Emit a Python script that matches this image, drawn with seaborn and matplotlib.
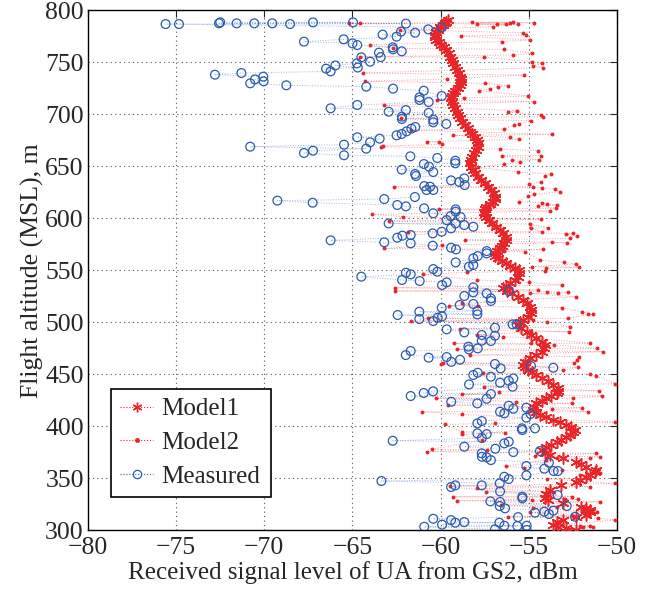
import numpy as np
import pandas as pd
import matplotlib
matplotlib.use("Agg")
import matplotlib.pyplot as plt
from matplotlib.lines import Line2D
import seaborn as sns

# ---------------- data ----------------
measured_x = [
    -75.6, -74.84, -72.57, -72.5, -71.57, -70.57, -69.55, -68.54, -67.24, -64.97,
    -67.75, -65.5, -65.0, -64.73, -63.29, -63.5, -64.5, -64.0, -63.4, -64.75, -64.7, -65.97, -66.5, -66.24,
    -72.8, -71.3, -70.53, -70.06, -70.04, -70.8, -68.75, -64.22,
    -66.24, -64.73,
    -64.73, -64.0, -63.46, -64.22, -65.48, -65.48, -67.24, -67.75, -70.8,
    -69.26, -67.26, -66.24, -64.5,
    -61.97, -62.25, -62.5, -61.45, -60.7, -59.94, -62.72, -62.7, -62.21,
    -62.7, -60.96, -61.2, -61.2, -60.68, -59.94, -62.95, -61.97, -62.2, -62.2, -60.68, -60.42, -60.42, -59.68,
    -62.5, -62.21, -61.93, -61.66, -61.44, -61.72, -60.19, -59.17, -59.17, -62.21, -60.95, -60.66, -60.42,
    -61.45, -61.4, -59.41, -58.94, -58.66,
    -60.93, -60.8, -60.42, -60.6, -58.64,
    -63.2, -61.46, -62.46, -61.97, -60.94, -59.15, -59.15, -60.42, -59.43, -58.87, -59.66, -59.41, -59.15,
    -58.66, -58.15, -62.95, -62.46, -62.17, -61.7, -61.7, -63.2, -60.45, -59.94, -60.45, -59.41, -59.13,
    -59.15, -57.9, -58.15, -58.15, -58.4, -57.39, -57.39, -60.42, -60.19, -61.97, -61.7, -62.19, -61.19,
    -59.92, -59.66, -58.15, -58.15, -58.66, -57.39, -57.15, -57.15, -56.14, -58.92, -58.15, -57.92, -57.92,
    -59.94, -61.21, -61.21, -62.44, -60.42, -60.17, -59.92, -59.66, -58.66, -56.92, -57.67, -57.67, -56.92,
    -57.15, -55.92, -55.69, -58.43, -58.4, -57.9, -61.98, -61.7, -60.68, -59.66, -58.9,
    -59.4, -56.92, -56.6, -54.88, -53.61, -58.15, -57.9, -57.15, -58.39, -56.63, -56.14, -55.88, -55.92,
    -61.7, -60.96, -60.43, -59.4, -57.92, -57.39, -57.15, -56.63, -56.39, -56.14, -55.88, -55.14, -55.14, -54.9,
    -57.92, -57.67, -55.39, -55.37, -54.65, -57.92, -57.66, -57.39, -62.72, -58.66, -56.9, -56.39, -56.14,
    -55.88, -57.67, -57.66, -57.39, -57.15, -54.37, -55.14, -54.12, -53.86, -53.59, -53.35, -55.14, -63.36,
    -56.39, -56.14, -56.65, -56.63, -59.41, -59.17, -57.67, -55.37, -55.37, -53.37, -57.18, -56.63, -56.65,
    -56.35, -55.61, -54.65, -54.12, -53.86, -53.61, -52.85, -52.38, -60.93, -60.42, -59.92, -59.41, -59.17,
    -58.66, -56.92, -56.67, -56.39, -55.65, -55.12, -55.12,
]
measured_y = [
    786.8, 786.8, 787.5, 788.5, 787.5, 787.5, 787.5, 786.8, 788.4, 788.4,
    769.9, 772.1, 768.2, 766.6, 776.6, 759.3, 754.8, 750.6, 755.0, 749.0, 745.0, 747.0, 743.9, 741.3,
    738.1, 739.7, 733.6, 736.2, 731.7, 729.8, 727.9, 726.6,
    705.8, 709.0,
    677.9, 673.1, 676.6, 667.0, 670.8, 660.6, 665.0, 662.8, 668.9,
    617.0, 615.0, 578.8, 543.9,
    787.2, 779.5, 774.7, 778.5, 781.7, 783.6, 764.4, 762.5, 760.6,
    724.7, 722.7, 716.3, 713.8, 711.8, 717.6, 702.5, 704.1, 697.7, 695.5, 701.4, 694.9, 692.3, 690.7,
    679.8, 681.1, 683.6, 686.2, 687.8, 659.6, 658.0, 655.4, 652.9, 646.8, 652.2, 649.7, 644.5,
    642.6, 640.7, 636.5, 634.9, 638.4,
    631.0, 627.2, 627.2, 630.4, 632.0,
    618.5, 620.5, 612.8, 611.5, 609.6, 608.6, 606.4, 604.8, 602.2, 601.2, 598.3, 590.3, 595.1,
    593.5, 591.9, 595.1, 581.4, 583.3, 583.9, 575.9, 576.9, 585.5, 587.1, 573.7, 571.7, 570.1,
    557.6, 563.7, 561.5, 555.1, 553.5, 568.5, 566.3, 551.2, 548.7, 547.7, 546.1, 540.7, 539.7,
    535.8, 538.4, 533.6, 528.8, 525.3, 527.8, 523.0, 520.5, 530.1, 516.6, 517.6, 510.8, 507.6,
    514.0, 510.2, 503.2, 507.0, 501.2, 504.4, 505.7, 493.2, 490.3, 494.8, 487.8, 482.3, 487.1,
    482.0, 498.0, 498.0, 476.6, 474.0, 474.9, 468.5, 472.4, 466.0, 466.6, 464.0,
    462.0, 459.9, 455.7, 458.0, 456.3, 449.3, 451.5, 447.7, 440.3, 441.9, 443.8, 446.0, 438.1,
    429.1, 432.0, 433.6, 423.6, 422.0, 426.5, 431.0, 414.0, 412.4, 419.8, 416.9, 417.9, 408.3, 411.8,
    402.8, 405.0, 398.0, 396.4, 398.0, 393.2, 388.7, 392.5, 386.1, 380.4, 378.4, 383.6, 385.2,
    375.2, 374.0, 370.7, 370.1, 367.5, 376.2, 361.8, 359.2, 365.0, 357.0, 357.0, 352.8, 347.4,
    351.5, 349.3, 345.1, 337.4, 341.6, 343.2, 343.2, 332.3, 330.7, 333.9, 327.8, 327.2, 323.3,
    321.1, 312.7, 316.9, 317.9, 315.6, 318.8, 323.3, 313.0, 303.4, 311.1, 305.4, 309.8, 307.3,
    307.9, 300.9, 307.3, 304.4, 304.1, 304.4, 300.3,
]

model1_x = [
    -59.58, -59.68, -59.77, -59.87, -60.02, -60.15, -60.25, -60.34, -60.32, -60.25, -60.11, -59.96,
    -59.83, -59.68, -59.55, -59.45, -59.38, -59.30, -59.19, -59.08, -58.98, -58.92, -58.85, -58.83,
    -58.91, -59.02, -59.19, -59.30, -59.38, -59.40, -59.36, -59.30, -59.19, -59.08, -59.00, -58.92,
    -58.79, -58.64, -58.47, -58.32, -58.21, -58.08, -57.96, -57.89, -57.91, -57.98, -58.09, -58.21,
    -58.30, -58.36, -58.28, -58.17, -58.04, -57.89, -57.70, -57.51, -57.32, -57.13, -57.00, -56.89,
    -56.92, -57.04, -57.23, -57.42, -57.51, -57.57, -57.51, -57.42, -57.26, -57.08, -56.87, -56.66,
    -56.47, -56.32, -56.32, -56.38, -56.51, -56.66, -56.81, -56.94, -56.89, -56.75, -56.53, -56.28,
    -56.06, -55.81,
    -55.55, -55.55, -55.60, -55.81, -56.08, -56.30, -56.45, -56.26, -55.98, -55.64, -55.32, -55.09,
    -54.94, -54.85, -54.85, -55.04, -55.32, -55.51, -55.60, -55.42, -55.13, -54.85, -54.57, -54.28,
    -54.09, -54.13, -54.28, -54.60, -54.94, -55.19, -55.32, -55.23, -55.04, -54.81, -54.57, -54.23,
    -53.91, -53.62, -53.34, -53.34, -53.43, -53.72, -54.00, -54.28, -54.57, -54.72, -54.75, -54.60,
    -54.38, -54.00, -53.62, -53.25, -52.87, -52.58, -52.40, -52.49, -52.68, -52.91, -53.15, -53.43,
    -53.72, -54.00, -54.28, -54.09, -53.81, -53.06, -52.30, -52.02, -51.74, -51.17, -51.26, -51.55,
    -51.74, -52.11, -52.30, -53.15, -53.81, -54.00, -54.09, -53.91, -53.06, -52.02, -51.74, -51.55,
    -51.55, -51.74, -52.30, -53.06, -53.43, -53.62, -53.34, -52.87, -52.30,
]
model1_y = [
    790.7, 789.1, 787.5, 785.9, 783.7, 781.1, 778.8, 776.3, 774.0, 771.5, 769.2, 766.7,
    764.4, 761.9, 758.7, 755.4, 752.2, 749.0, 745.8, 742.6, 739.4, 736.2, 734.0, 731.4,
    728.2, 725.0, 722.4, 720.2, 718.0, 715.4, 712.2, 709.0, 705.8, 702.6, 699.4, 696.2,
    692.9, 689.7, 686.5, 683.3, 681.1, 678.5, 675.3, 672.1, 668.9, 665.7, 662.5, 659.3,
    656.1, 652.9, 649.7, 646.5, 643.3, 640.1, 636.9, 633.7, 630.4, 627.2, 624.0, 620.8,
    618.6, 616.0, 613.8, 611.2, 609.0, 606.4, 604.2, 601.6, 598.4, 595.2, 592.0, 588.8,
    585.6, 582.4, 579.2, 576.0, 573.7, 571.2, 569.0, 566.3, 564.1, 561.5, 559.3, 556.7,
    554.5, 551.9,
    550.3, 547.1, 543.9, 540.7, 537.5, 534.9, 532.7, 530.4, 527.9, 524.7, 521.5, 518.3,
    515.1, 511.9, 508.7, 505.4, 502.2, 500.0, 497.4, 494.2, 491.0, 487.8, 484.6, 481.4,
    478.2, 475.0, 471.8, 468.6, 465.4, 462.2, 459.0, 456.7, 454.2, 452.0, 449.4, 446.2,
    443.1, 439.7, 436.5, 434.3, 431.7, 429.5, 426.9, 424.7, 422.1, 418.9, 415.7, 413.5,
    410.9, 408.7, 406.1, 403.9, 401.3, 399.1, 396.5, 394.3, 391.7, 389.5, 386.9, 384.7,
    382.1, 379.9, 377.2, 374.7, 372.4, 369.2, 366.0, 363.4, 361.2, 358.0, 355.8, 353.2,
    351.0, 348.4, 346.2, 343.6, 338.8, 335.0, 330.8, 329.2, 326.0, 322.8, 321.2, 319.6,
    317.4, 314.8, 312.6, 310.0, 307.8, 305.1, 303.5, 301.9, 300.6,
]

model2_x = [
    -65.2, -64.55, -64.0, -64.6, -64.4, -64.3, -63.2, -63.4, -63.9, -63.2,
    -58.24, -57.96, -57.05, -56.79, -56.30, -56.07, -55.88, -55.63, -54.73, -58.87, -55.35, -55.18,
    -56.54, -54.95, -56.41, -55.90, -54.80, -57.52, -54.84, -54.74, -54.27, -54.20, -55.29, -59.64,
    -57.46, -56.77, -56.16, -57.84, -57.20, -55.05, -54.71, -58.66, -56.18, -55.67, -54.31, -54.22,
    -54.86, -55.58, -55.82, -56.41, -53.69, -56.09, -55.54, -60.76, -60.07, -59.94, -56.63, -56.50,
    -54.46, -54.33, -54.40, -55.95, -55.50, -56.43, -57.88, -55.61, -54.10, -53.76, -54.97,
    -54.29, -53.53, -59.28, -61.66, -62.27, -62.68, -62.30, -60.19, -63.27,
    -62.66, -54.74, -54.23, -53.23, -55.56, -54.69, -54.50, -53.99, -53.80, -53.42, -53.46,
    -55.03, -54.23, -62.12, -60.08, -62.91, -54.31, -54.93, -54.90, -53.93, -54.27, -52.51, -52.25,
    -52.66, -52.89, -52.82, -61.83, -58.62, -59.92, -53.71, -54.18, -55.22, -56.41, -54.35,
    -52.99, -52.34, -52.17, -54.08, -54.03, -54.82, -57.96, -54.97, -53.14, -60.98, -58.49, -62.57,
    -62.57, -54.46, -53.99, -53.33, -52.76, -52.31, -54.93, -59.53, -58.81, -57.86, -53.14, -52.00,
    -51.63, -51.34, -52.76, -52.66, -52.70, -61.68, -60.70, -58.90, -54.74, -53.99, -54.90, -57.96,
    -56.45, -53.57, -54.90, -54.46, -59.24, -59.09, -58.34, -59.89, -52.14, -52.29, -51.11, -50.81,
    -51.53, -60.00, -53.08, -52.42, -52.23, -51.19, -51.53, -51.02, -50.87, -57.58, -58.81, -60.26,
    -59.56, -61.08, -58.79, -57.52, -56.71, -55.73, -52.57, -52.00, -51.63, -52.48, -53.71, -56.92,
    -56.35, -57.67, -58.81, -59.75, -58.81, -60.79, -60.51, -57.39, -54.65, -54.03, -53.42, -51.53,
    -51.19, -50.96, -56.31, -55.27, -53.99, -53.14, -52.10, -51.53, -51.72, -50.96, -59.47, -59.28,
    -59.06, -57.96, -57.43, -56.16, -56.58, -54.84, -54.12, -53.61, -52.57, -51.91, -50.96, -51.15,
    -51.53, -51.34, -51.91, -51.06, -54.93, -54.74, -53.42, -52.95, -52.48, -52.19, -51.63, -53.14,
    -52.66, -52.10, -50.10, -50.10, -50.10, -50.10,
]
model2_y = [
    787.5, 787.8, 767.0, 755.4, 739.7, 731.7, 708.6, 668.9, 603.8, 571.0,
    788.4, 786.8, 784.3, 786.8, 786.8, 788.1, 788.8, 786.5, 788.1, 775.3, 778.5, 776.3,
    769.9, 771.5, 762.5, 757.0, 758.6, 754.8, 750.6, 746.8, 749.0, 744.9, 737.8, 734.0,
    729.8, 726.6, 727.5, 722.7, 724.7, 717.6, 712.2, 715.7, 702.2, 703.5, 699.3, 697.7,
    693.9, 690.7, 689.7, 685.9, 680.7, 677.9, 676.0, 673.7, 673.1, 671.1, 666.6, 660.2,
    665.0, 660.2, 656.4, 656.0, 653.8, 652.2, 649.0, 644.5, 641.0, 642.6, 633.3,
    634.9, 628.5, 679.8, 684.9, 696.1, 763.4, 781.1, 713.8, 669.5,
    630.1, 630.4, 629.4, 625.6, 616.0, 623.0, 612.1, 613.4, 607.0, 612.8, 609.6,
    621.1, 615.0, 601.6, 608.9, 597.4, 599.0, 594.5, 590.3, 591.0, 587.1, 585.5, 583.0,
    580.7, 584.6, 576.6, 587.1, 579.1, 574.3, 576.9, 570.1, 567.9, 568.5, 559.9,
    557.6, 556.0, 552.8, 549.3, 551.9, 553.5, 540.7, 538.4, 535.8, 546.1, 548.0, 533.3,
    530.1, 531.0, 529.4, 527.8, 528.8, 524.6, 527.8, 516.0, 518.2, 516.0, 514.0, 510.2,
    507.6, 507.6, 503.8, 495.8, 491.0, 501.2, 503.8, 493.5, 502.2, 500.6, 491.0, 487.8,
    486.2, 478.2, 479.8, 484.6, 479.8, 474.0, 468.5, 460.5, 467.0, 463.7, 474.9, 471.7,
    479.8, 459.9, 454.1, 461.1, 456.6, 448.3, 450.2, 434.2, 429.1, 450.9, 430.7, 426.8,
    420.4, 414.0, 411.5, 438.1, 433.3, 423.6, 422.0, 417.9, 414.0, 426.8, 416.3, 402.8,
    393.8, 386.8, 394.8, 401.8, 392.2, 375.6, 377.8, 377.2, 371.4, 367.5, 369.1, 369.1,
    374.0, 370.8, 361.8, 360.2, 349.6, 357.9, 353.1, 341.9, 349.9, 354.7, 342.5, 332.3,
    328.4, 340.3, 337.1, 313.1, 324.3, 329.1, 331.7, 337.1, 332.3, 317.9, 327.5, 317.9,
    304.4, 303.5, 302.8, 311.5, 317.2, 321.4, 322.7, 329.7, 313.7, 329.7, 314.7, 305.1,
    301.5, 304.1, 441.0, 404.0, 345.0, 310.0,
]

series_names = ["Model1", "Model2", "Measured"]
x_ticks = [-80, -75, -70, -65, -60, -55, -50]
y_ticks = [300, 350, 400, 450, 500, 550, 600, 650, 700, 750, 800]
x_label = "Received signal level of UA from GS2, dBm"
y_label = "Flight altitude (MSL), m"

# ---------------- style ----------------
sns.set_style("white")
plt.rcParams["font.family"] = ["Liberation Serif", "DejaVu Serif"]

RED = "#e8262a"
BLUE = "#2b5bb3"
asterisk = (6, 2, 0)

fig = plt.figure(figsize=(6.46, 5.90), dpi=100)
ax = fig.add_axes([0.1362, 0.1012, 0.8189, 0.8813])

df1 = pd.DataFrame({"x": model1_x, "y": model1_y})
df2 = pd.DataFrame({"x": model2_x, "y": model2_y})
dfm = pd.DataFrame({"x": measured_x, "y": measured_y})

# dotted connecting lines
sns.lineplot(data=df1, x="x", y="y", sort=False, estimator=None, ax=ax,
             color=RED, linestyle=":", linewidth=0.8, alpha=0.5)
sns.lineplot(data=df2, x="x", y="y", orient="y", sort=True, estimator=None, ax=ax,
             color=RED, linestyle=":", linewidth=0.7, alpha=0.45)
sns.lineplot(data=dfm, x="x", y="y", orient="y", sort=True, estimator=None, ax=ax,
             color=BLUE, linestyle=":", linewidth=0.7, alpha=0.45)

# markers
sns.scatterplot(data=df1, x="x", y="y", ax=ax, marker=asterisk, s=65,
                color=RED, edgecolor=RED, linewidth=1.1, zorder=3)
sns.scatterplot(data=df2, x="x", y="y", ax=ax, marker="o", s=8,
                color=RED, edgecolor=RED, linewidth=0, zorder=3)
sns.scatterplot(data=dfm, x="x", y="y", ax=ax, marker="o", s=40,
                facecolor="none", edgecolor=BLUE, linewidth=0.9, zorder=4)

ax.set_xlim(-80, -50)
ax.set_ylim(300, 800)
ax.set_xticks(x_ticks)
ax.set_yticks(y_ticks)
ax.grid(True, linestyle=(0, (1, 3)), color="0.35", linewidth=0.8)
ax.tick_params(direction="in", top=True, right=True, length=5, width=0.8,
               labelsize=18.5, pad=3)
ax.tick_params(axis="x", pad=5)
for sp in ax.spines.values():
    sp.set_color("black")
    sp.set_linewidth(1.0)

ax.set_xlabel(x_label, fontsize=18, labelpad=1)
ax.set_ylabel(y_label, fontsize=18.5, labelpad=1)

handles = [
    Line2D([], [], color=RED, linestyle=":", linewidth=0.8, marker=asterisk,
           markersize=7, markeredgewidth=1.0),
    Line2D([], [], color=RED, linestyle=":", linewidth=0.8, marker="o",
           markersize=2.5),
    Line2D([], [], color=BLUE, linestyle=":", linewidth=0.8, marker="o",
           markersize=6, markerfacecolor="none", markeredgewidth=0.9),
]
leg = ax.legend(handles, series_names, loc="lower left",
                bbox_to_anchor=(0.0435, 0.0646, 0.302, 0.219), mode="expand",
                fontsize=18, frameon=True, fancybox=False, framealpha=1,
                edgecolor="black", handlelength=1.35, handletextpad=0.3,
                labelspacing=0.45, borderpad=0.35, borderaxespad=0)
leg.get_frame().set_linewidth(1.2)

fig.savefig("out.png", dpi=100)
